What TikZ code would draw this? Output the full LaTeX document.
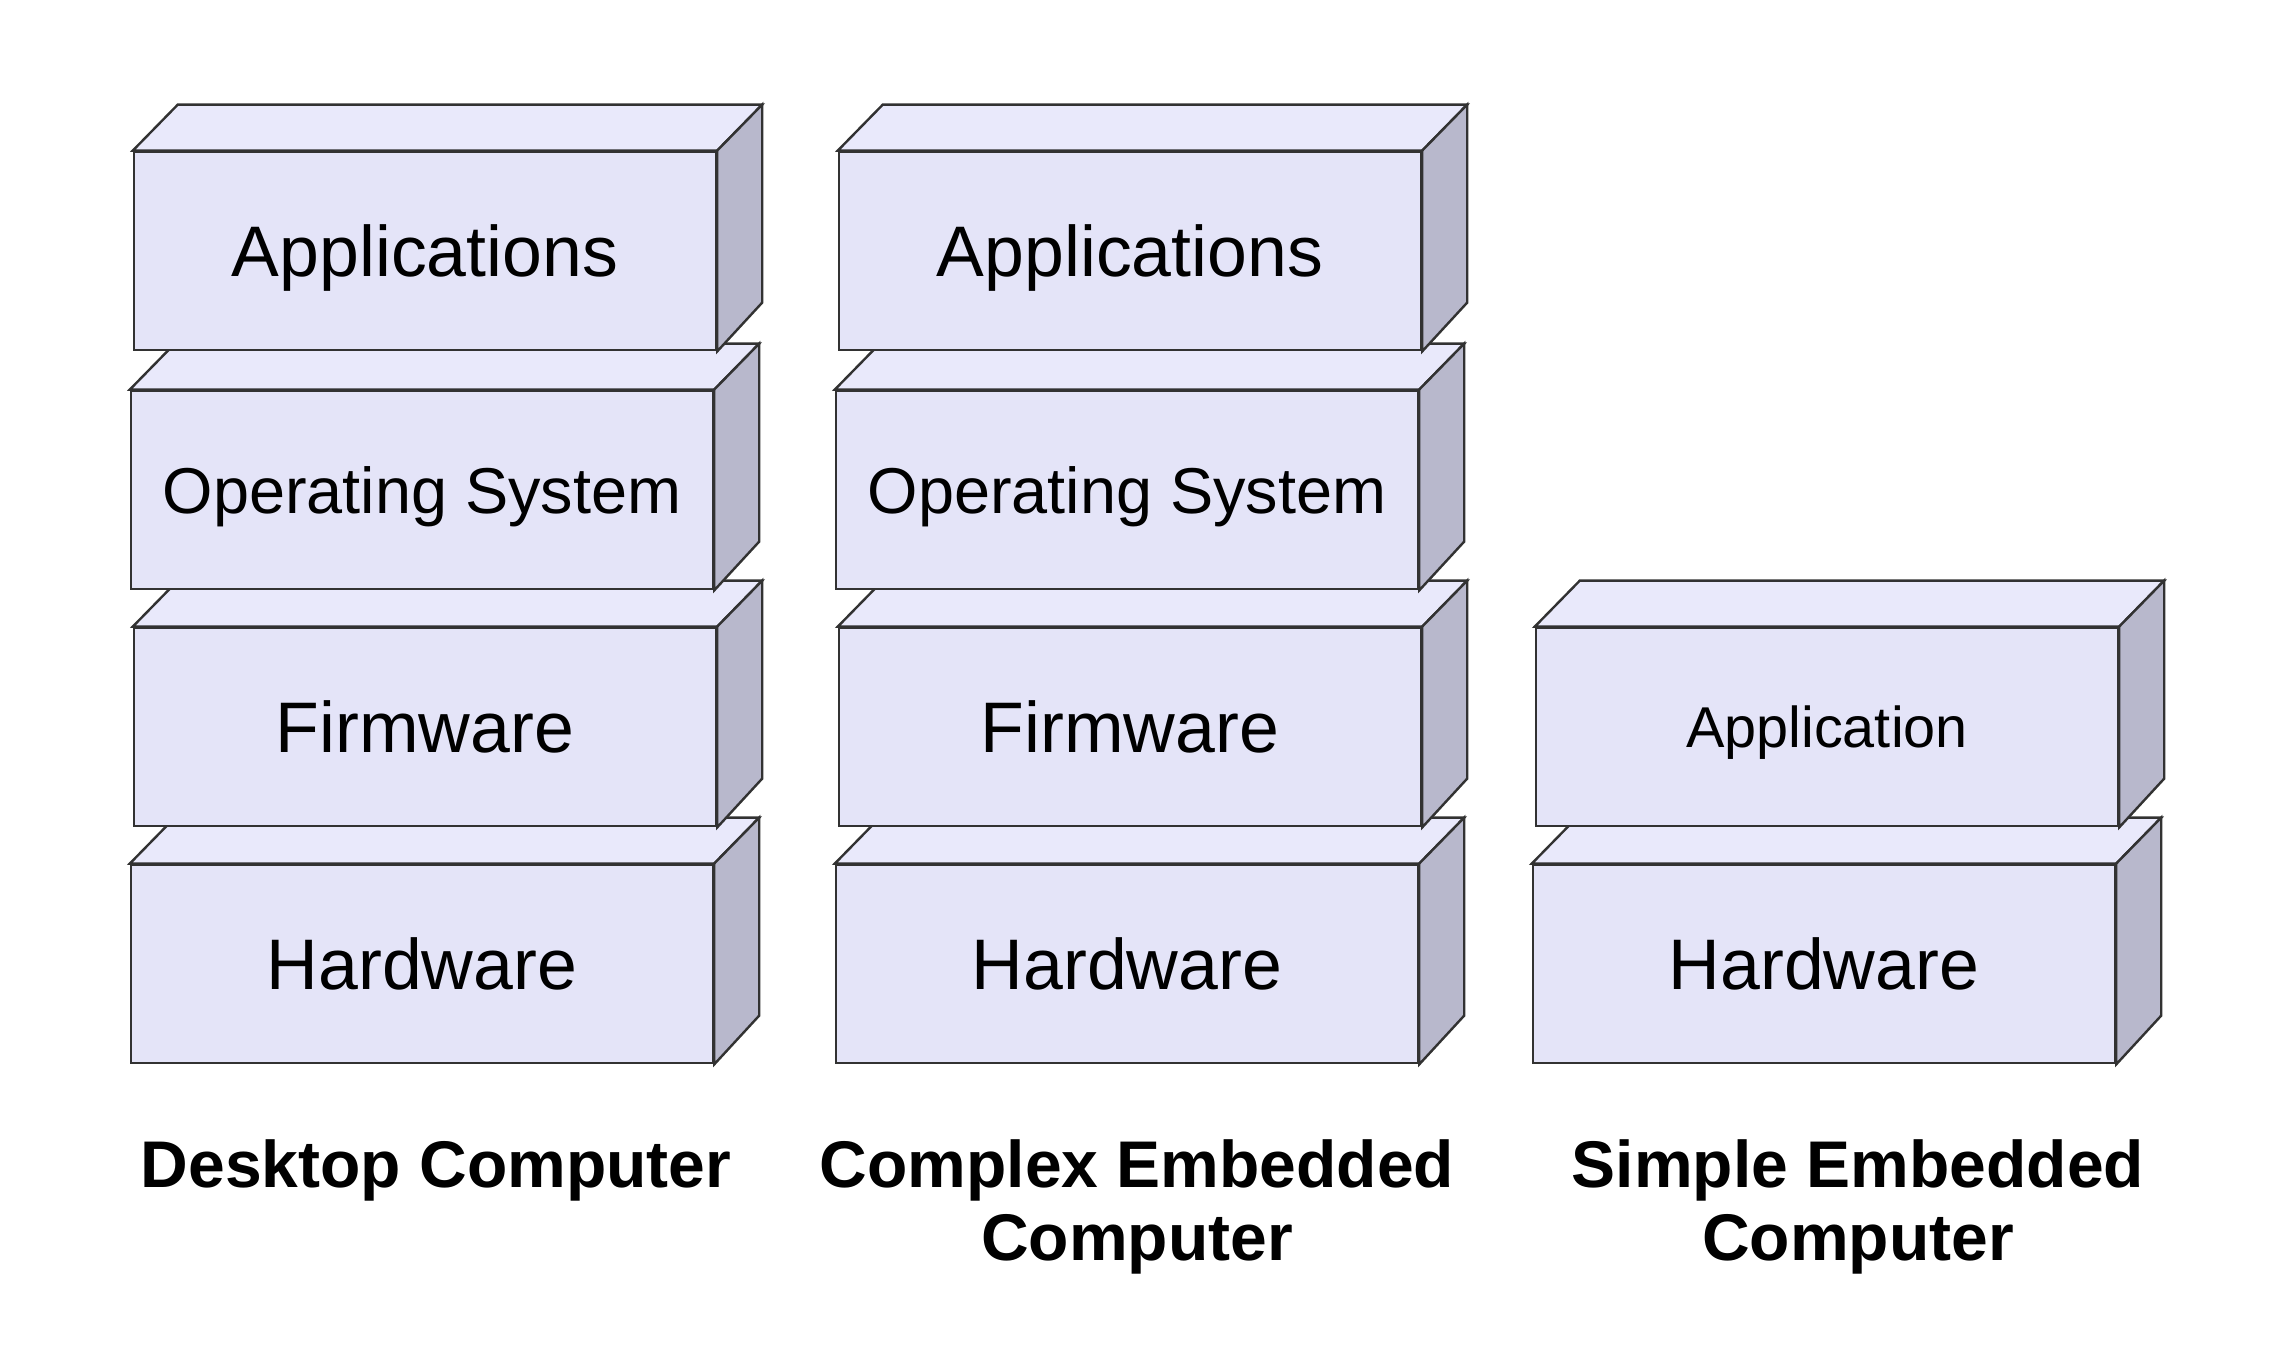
\documentclass[tikz,border=0pt]{standalone}
\usepackage{fontspec}
\setmainfont{Liberation Sans}
\definecolor{frontc}{RGB}{228,228,248}
\definecolor{topc}{RGB}{233,233,251}
\definecolor{sidec}{RGB}{184,184,204}
\definecolor{linec}{RGB}{50,50,50}
\tikzset{
	layer/.style={draw=linec, fill=frontc, line width=0.6pt, minimum width=145.5pt, minimum height=49.6pt, inner sep=0pt, text depth=0pt},
	txtbig/.style={font=\fontsize{17.9}{21}\selectfont, text height=12.9pt},
	txtmid/.style={font=\fontsize{16.2}{19}\selectfont, text height=11.7pt},
	txtsmall/.style={font=\fontsize{14.4}{17}\selectfont, text height=10.4pt},
	face/.style={draw=linec, line width=0.6pt},
	caption/.style={font=\fontsize{16.5}{18.1}\selectfont\bfseries, align=center, anchor=north, inner sep=0pt}
}
\begin{document}
\begin{tikzpicture}[x=0.25pt, y=-0.25pt]
	\useasboundingbox (0,0) rectangle (2272,1362);
	% stacks, drawn from the bottom layer up
	\foreach \name/\x/\y/\sty/\txt in {dhw/422/964/txtbig/Hardware, dfw/425/727/txtbig/Firmware, dos/422/490/txtmid/Operating System, dapp/425/251/txtbig/Applications,
		chw/1127/964/txtbig/Hardware, cfw/1130/727/txtbig/Firmware, cos/1127/490/txtmid/Operating System, capp/1130/251/txtbig/Applications,
		shw/1824/964/txtbig/Hardware, sapp/1827/727/txtsmall/Application}{
		\node[layer,\sty] (\name) at (\x,\y) {\txt};
		\filldraw[face, fill=topc] (\name.north west) -- ++(45,-46) -- ([shift={(45,-46)}]\name.north east) -- (\name.north east) -- cycle;
		\filldraw[face, fill=sidec] (\name.north east) -- ++(45,-46) -- ++(0,198) -- (\name.south east) -- cycle;
	}
	% captions
	\node[caption] (dlabel) at (436,1139) {Desktop Computer};
	\node[caption] (clabel) at (1137,1139) {Complex Embedded\\Computer};
	\node[caption] (slabel) at (1858,1139) {Simple Embedded\\Computer};
\end{tikzpicture}
\end{document}
